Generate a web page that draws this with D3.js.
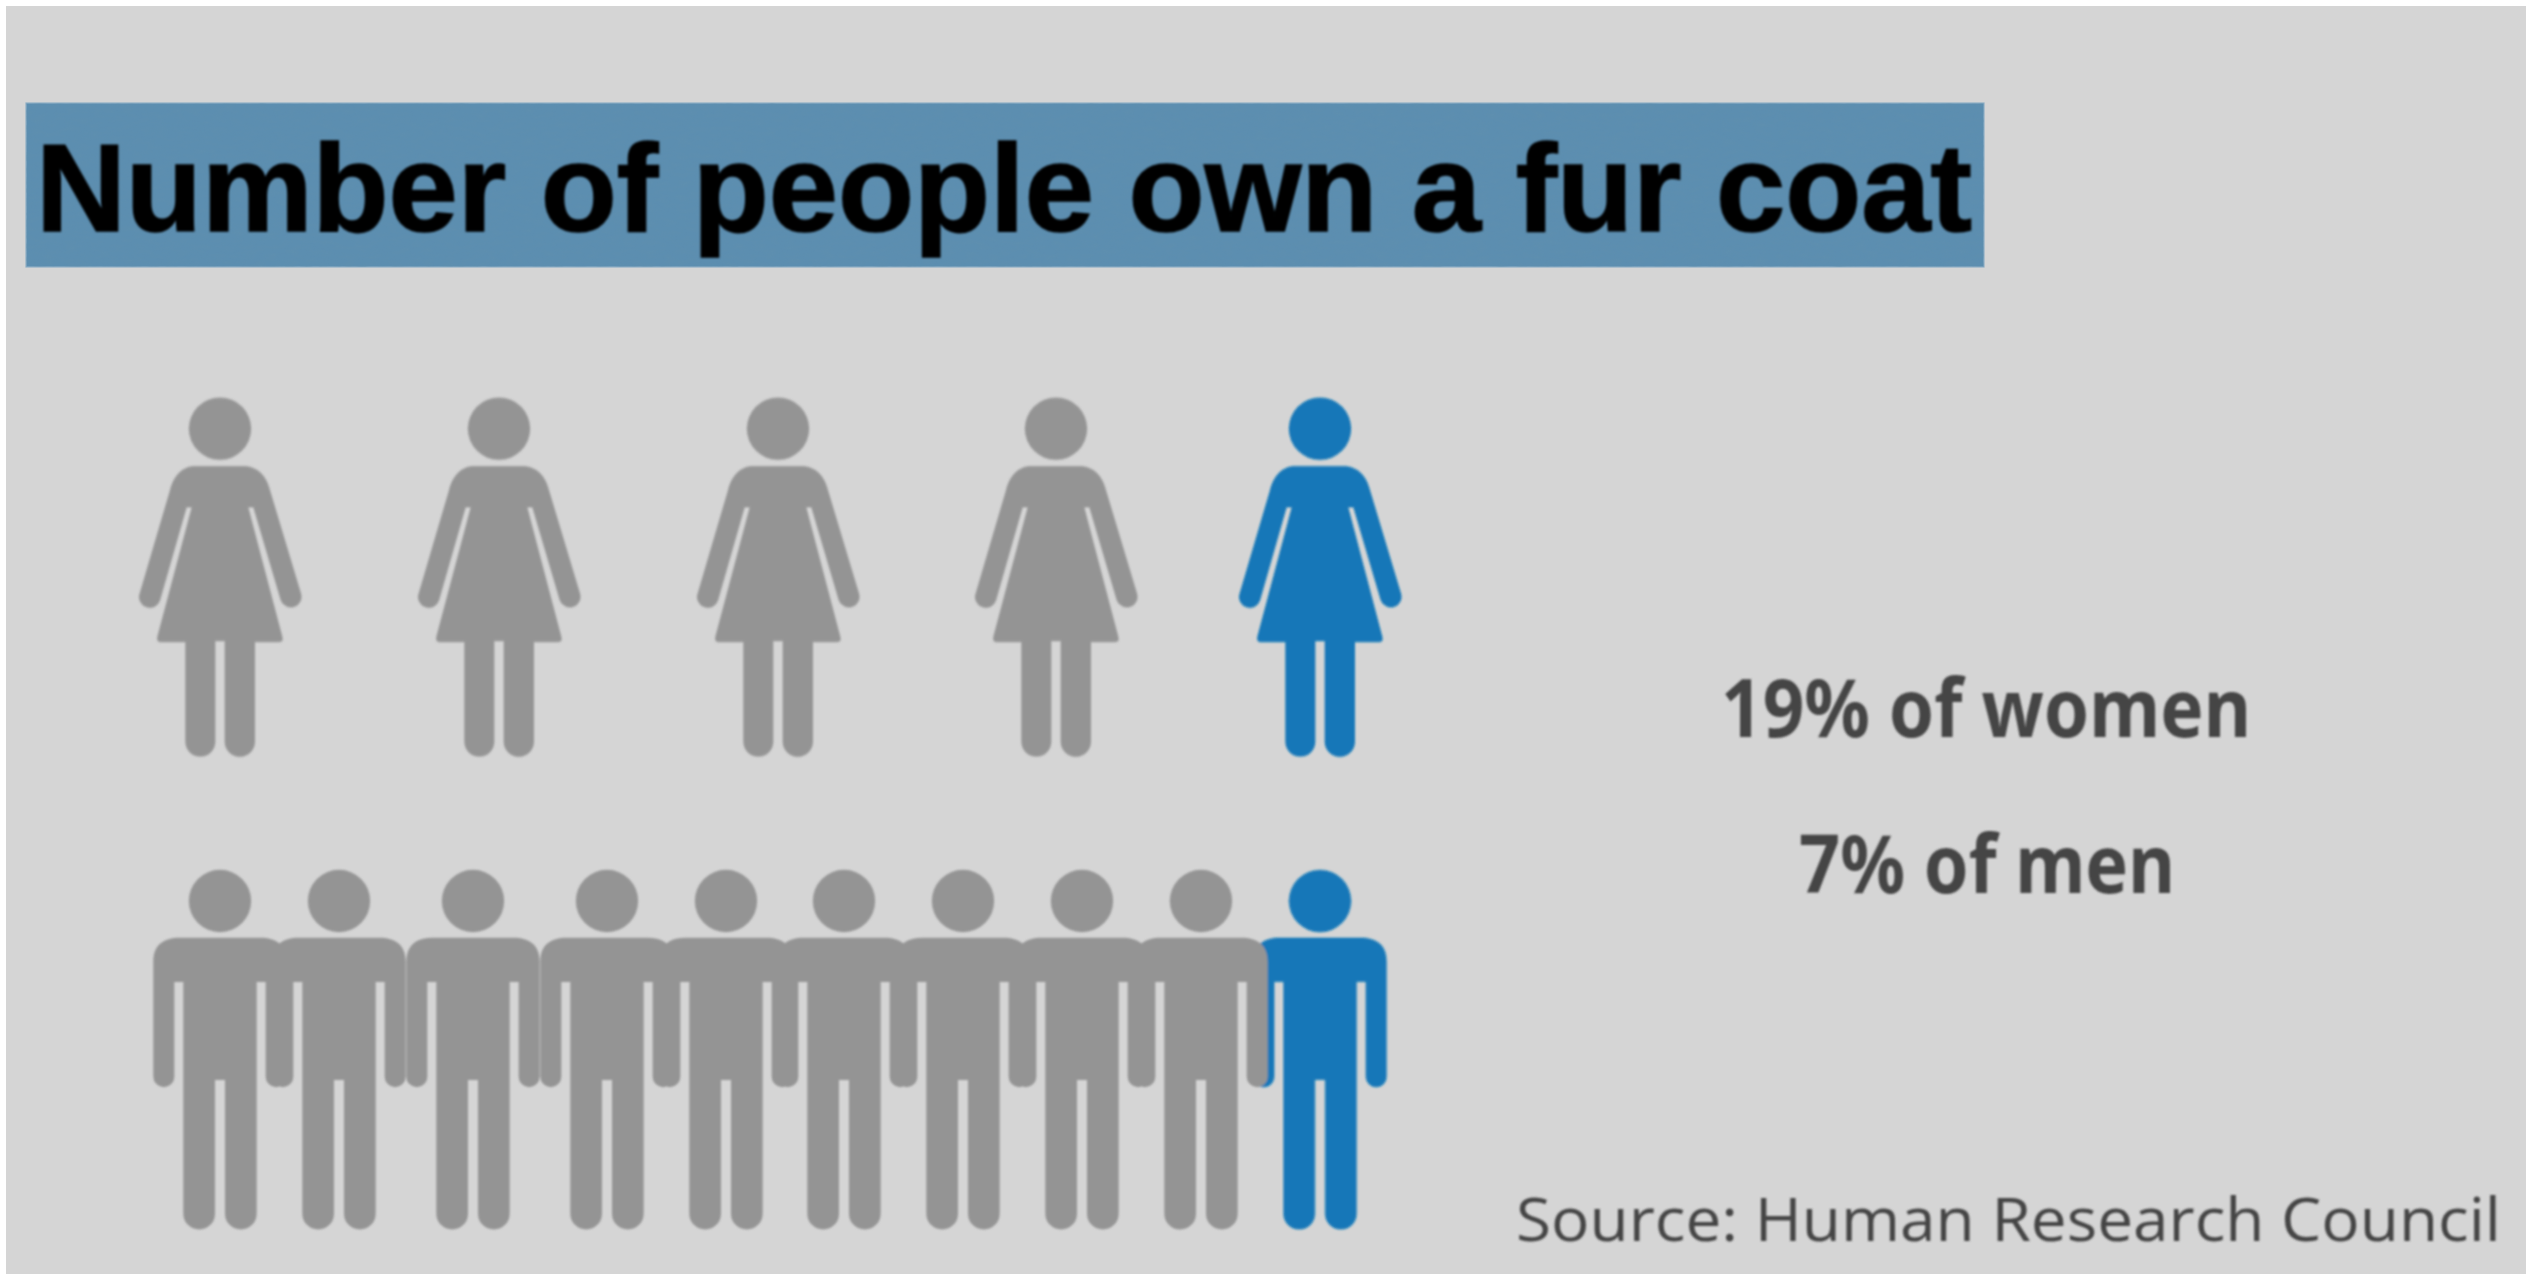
<!DOCTYPE html>
<html>
<head>
<meta charset="utf-8">
<title>Number of people own a fur coat</title>
<script src="https://cdn.jsdelivr.net/npm/d3@7"></script>
<style>
html,body{margin:0;padding:0;background:#fff;}
svg{display:block;}
</style>
</head>
<body>
<div id="chart"></div>
<script>
// ---- data ----
const titleText = "Number of people own a fur coat";
const sourceText = "Source: Human Research Council";
const groups = ["women", "men"];
const percents = [19, 7];
const iconTotals = [5, 10];
const iconsHighlighted = [1, 1];

// ---- layout ----
const W = 2530, H = 1286;
const colors = {page:"#ffffff", bg:"#d5d5d5", banner:"#5c8eb0", bannerEdge:"#8fb0c6", grey:"#949494", blue:"#1277b8", ink:"#444444", title:"#000000"};
const womenX = [220, 499, 778, 1056, 1320];
const menX = [220, 339, 473, 607, 726, 844, 963, 1082, 1201, 1320];

const xWomen = d3.scaleOrdinal().domain(d3.range(iconTotals[0])).range(womenX);
const xMen = d3.scaleOrdinal().domain(d3.range(iconTotals[1])).range(menX);
const statusScale = d3.scaleOrdinal().domain(["rest", "owner"]).range([colors.grey, colors.blue]);

const svg = d3.select("#chart").append("svg").attr("width", W).attr("height", H).attr("viewBox", `0 0 ${W} ${H}`);
const defs = svg.append("defs");

const soft = defs.append("filter").attr("id","soft").attr("x",0).attr("y",0).attr("width",W).attr("height",H).attr("filterUnits","userSpaceOnUse");
soft.append("feGaussianBlur").attr("stdDeviation",0.8);

const grain = defs.append("filter").attr("id","grain").attr("x","0").attr("y","0").attr("width","100%").attr("height","100%");
grain.append("feTurbulence").attr("type","fractalNoise").attr("baseFrequency","0.09 0.22").attr("numOctaves",3).attr("seed",7);
grain.append("feColorMatrix").attr("type","matrix").attr("values","0 0 0 0 0.12  0 0 0 0 0.28  0 0 0 0 0.42  1.4 0 0 0 -0.5");

svg.append("rect").attr("width",W).attr("height",H).attr("fill",colors.page);
svg.append("rect").attr("x",6).attr("y",6).attr("width",2520).attr("height",1268).attr("fill",colors.bg);

// banner
const banner = {x:26, y:103, w:1958, h:164};
svg.append("rect").attr("x",banner.x).attr("y",banner.y).attr("width",banner.w).attr("height",banner.h)
  .attr("fill",colors.banner).attr("stroke",colors.bannerEdge).attr("stroke-width",1.2);
svg.append("rect").attr("x",banner.x).attr("y",banner.y).attr("width",banner.w).attr("height",banner.h)
  .attr("filter","url(#grain)").attr("opacity",0.55);

const art = svg.append("g").attr("filter","url(#soft)");

art.append("text").attr("x",36).attr("y",231)
  .attr("font-family","'Liberation Sans', Arial, sans-serif").attr("font-weight",700).attr("font-size",124)
  .attr("textLength",1936).attr("lengthAdjust","spacingAndGlyphs")
  .attr("stroke",colors.title).attr("stroke-width",1.6)
  .attr("fill",colors.title).text(titleText);

// icon geometry, in units of one third of a pixel around each figure's centre line
const womanBody = "M-75,258 C-115,258 -140,290 -150,330 L-241,640 A32,32 0 0 0 -180,662 L-100,382 L-85,382 L-188,770 Q-191,786 -178,786 L-104,786 L-104,1085 A45,45 0 0 0 -14,1085 L-14,783 L14,783 L14,1085 A45.5,45.5 0 0 0 105,1085 L105,786 L177,786 Q191,786 187,770 L85,382 L100,382 L182,660 A32,32 0 0 0 243,640 L150,330 C140,290 115,258 70,258 Z";
const manBody = "M-120,263 C-170,263 -200,285 -200,335 L-200,680 A31.5,31.5 0 0 0 -137,680 L-137,396 L-110,396 L-110,1091 A47.5,47.5 0 0 0 -15,1091 L-15,690 L15,690 L15,1091 A47.5,47.5 0 0 0 110,1091 L110,396 L137,396 L137,680 A31.5,31.5 0 0 0 200,680 L200,335 C200,285 170,263 120,263 Z";
const unit = 1/3;

function drawRow(name, idx, xScale, bodyPath, originY, headY) {
  const order = d3.range(iconTotals[idx]).map(i => ({i, status: i >= iconTotals[idx] - iconsHighlighted[idx] ? "owner" : "rest"}))
    .sort((a,b) => d3.ascending(a.status === "owner" ? 0 : 1, b.status === "owner" ? 0 : 1) || d3.ascending(a.i, b.i)); // highlighted figure sits behind its neighbour
  const fig = art.append("g").attr("class","row-"+name).selectAll("g").data(order).join("g")
    .attr("transform", d => `translate(${xScale(d.i)},${originY}) scale(${unit})`)
    .attr("fill", d => statusScale(d.status));
  fig.append("circle").attr("cx",0).attr("cy",headY).attr("r",93.5);
  fig.append("path").attr("d",bodyPath);
}
drawRow(groups[0], 0, xWomen, womanBody, 380, 146);
drawRow(groups[1], 1, xMen, manBody, 850, 153);

// callouts
const callouts = [
  {y:737, x:1721, len:530},
  {y:892.5, x:1799, len:376}
];
art.selectAll("text.callout").data(groups).join("text").attr("class","callout")
  .attr("x",(d,i)=>callouts[i].x).attr("y",(d,i)=>callouts[i].y)
  .attr("font-family","'Noto Sans', 'Open Sans', sans-serif").attr("font-weight",700).attr("font-size",81)
  .attr("textLength",(d,i)=>callouts[i].len).attr("lengthAdjust","spacingAndGlyphs")
  .attr("fill",colors.ink)
  .text((d,i)=>`${percents[i]}% of ${d}`);

art.append("text").attr("x",1516).attr("y",1241)
  .attr("font-family","'Open Sans', 'Noto Sans', sans-serif").attr("font-size",61)
  .attr("textLength",985).attr("lengthAdjust","spacingAndGlyphs")
  .attr("fill",colors.ink).text(sourceText);
</script>
</body>
</html>
